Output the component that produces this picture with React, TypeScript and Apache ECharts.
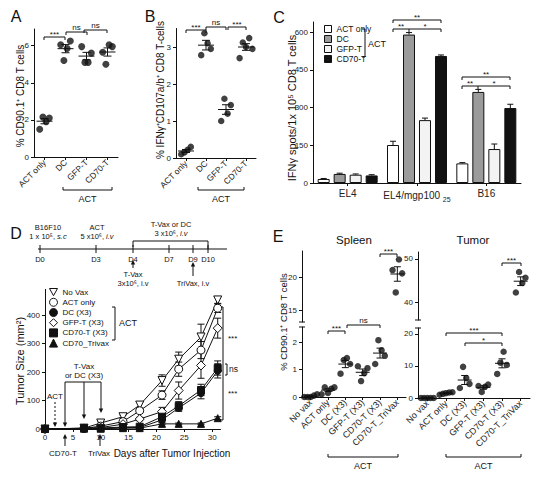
import { useEffect, useRef } from 'react';
import * as echarts from 'echarts';

const FONT = '"Liberation Sans", Arial, Helvetica, sans-serif';
const INK = '#111';

// ---------------- Panel A ----------------
const aCategories = ['ACT only', 'DC', 'GFP-T', 'CD70-T'];
const aActOnly = [1.5, 2.15, 1.9, 2.1];
const aDC = [6.05, 5.2, 5.85, 6.25];
const aGFPT = [5.95, 5.1, 5.1, 5.6];
const aCD70T = [5.65, 5.0, 6.05, 5.95];
const aMean = [1.93, 5.84, 5.44, 5.66];
const aSEM = [0.14, 0.22, 0.2, 0.22];
const aTicks = [0, 2, 4, 6];

// ---------------- Panel B ----------------
const bCategories = ['ACT only', 'DC', 'GFP-T', 'CD70-T'];
const bActOnly = [0.1, 0.15, 0.22, 0.3];
const bDC = [2.78, 3.37, 3.1, 2.95];
const bGFPT = [1.0, 1.6, 1.2, 1.43];
const bCD70T = [2.7, 3.12, 3.0, 3.24, 2.95];
const bMean = [0.19, 3.05, 1.31, 3.0];
const bSEM = [0.04, 0.13, 0.13, 0.09];
const bTicks = [0, 1, 2, 3];

// ---------------- Panel C ----------------
const cCategories = ['EL4', 'EL4/mgp100 25', 'B16'];
const cGroups = ['ACT only', 'DC', 'GFP-T', 'CD70-T'];
const cActOnly = [16, 151, 78];
const cDC = [36, 590, 362];
const cGFPT = [33, 250, 135];
const cCD70T = [30, 505, 298];
const cActOnlyErr = [2, 15, 3];
const cDCErr = [3, 8, 10];
const cGFPTErr = [3, 8, 20];
const cCD70TErr = [3, 4, 15];
const cTicks = [0, 150, 300, 450, 600];

// ---------------- Panel D ----------------
const dDays = [0, 7, 10, 14, 17, 21, 24, 28, 31];
const dGroups = ['No Vax', 'ACT only', 'DC (X3)', 'GFP-T (X3)', 'CD70-T (X3)', 'CD70_Trivax'];
const dNoVax = [0, 3, 21, 43, 84, 170, 245, 323, 453];
const dNoVaxErr = [0, 1, 4, 6, 10, 20, 25, 45, 12];
const dActOnly = [0, 2, 10, 26, 64, 119, 210, 277, 424];
const dActOnlyErr = [0, 1, 3, 5, 8, 15, 25, 30, 15];
const dDC = [0, 2, 3, 5, 5, 32, 74, 126, 204];
const dDCErr = [0, 1, 1, 2, 2, 8, 12, 20, 25];
const dGFPT = [0, 2, 5, 17, 35, 61, 135, 223, 354];
const dGFPTErr = [0, 1, 2, 4, 6, 15, 30, 45, 35];
const dCD70T = [0, 3, 3, 7, 8, 43, 81, 137, 214];
const dCD70TErr = [0, 1, 1, 2, 3, 10, 15, 20, 25];
const dTriVax = [0, 1, 1, 3, 3, 18, 18, 18, 38];
const dTriVaxErr = [0, 0, 0, 1, 1, 3, 3, 3, 5];
const dYTicks = [0, 100, 200, 300, 400];
const dXTicks = [0, 5, 10, 15, 20, 25, 30];

// ---------------- Panel E ----------------
const eCategories = ['No vax', 'ACT only', 'DC (X3)', 'GFP-T (X3)', 'CD70-T (X3)', 'CD70-T_TriVax'];
const spleenNoVax = [0, 0, 0, 0.05, 0.1];
const spleenActOnly = [0.1, 0.35, 0.15, 0.3, 0.35];
const spleenDC = [0.85, 1.35, 1.42, 1.2];
const spleenGFPT = [1.12, 0.58, 0.87, 1.05];
const spleenCD70T = [1.2, 2.07, 1.7, 1.5];
const spleenTriVax = [21.1, 17.7, 22.7, 20.6];
const spleenMean = [0.03, 0.25, 1.2, 0.9, 1.6, 20.5];
const spleenSEM = [0.02, 0.05, 0.13, 0.12, 0.18, 1.1];
const tumorNoVax = [0, 0, 0, 0, 0];
const tumorActOnly = [1.0, 1.3, 1.5, 1.7, 1.8];
const tumorDC = [3.1, 9.7, 6.2, 4.4];
const tumorGFPT = [3.75, 1.9, 3.5, 4.2];
const tumorCD70T = [7.5, 11, 14.4, 10.3];
const tumorTriVax = [42.3, 47.0, 44.5, 45.7];
const tumorMean = [0, 1.45, 5.6, 3.3, 10.8, 44.9];
const tumorSEM = [0, 0.15, 1.4, 0.5, 1.4, 1.0];
const spleenLowTicks = [0, 1, 2];
const spleenHighTicks = [15, 20];
const tumorLowTicks = [0, 10, 20];
const tumorHighTicks = [40, 50];

// ---------------- helpers ----------------
const axisLine = { show: true, lineStyle: { color: INK, width: 1 } };

function ln(x1: number, y1: number, x2: number, y2: number, dash?: number[]): any {
  const style: any = { stroke: INK, lineWidth: 1 };
  if (dash) style.lineDash = dash;
  return { type: 'line', silent: true, shape: { x1, y1, x2, y2 }, style };
}
function tx(x: number, y: number, text: string, size = 8, align = 'center', extra: any = {}): any {
  return {
    type: 'text', silent: true, x, y,
    style: { text, fontSize: size, fontFamily: FONT, fill: INK, align, verticalAlign: 'middle', ...extra },
  };
}
function vtx(x: number, y: number, text: string, size: number): any {
  return { ...tx(x, y, text, size), rotation: Math.PI / 2 };
}
function head(x: number, y: number, dir: number): any {
  return {
    type: 'polygon', silent: true,
    shape: { points: [[x - 2.2, y - dir * 4.5], [x + 2.2, y - dir * 4.5], [x, y]] },
    style: { fill: INK },
  };
}
function arrow(x: number, y1: number, y2: number, dash?: number[]): any[] {
  const dir = y2 > y1 ? 1 : -1;
  return [ln(x, y1, x, y2 - dir * 3, dash), head(x, y2, dir)];
}
function bracket(x1: number, x2: number, y: number, label: string): any[] {
  const ly = label === 'ns' ? y - 5 : y - 3;
  return [ln(x1, y, x2, y), ln(x1, y, x1, y + 3), ln(x2, y, x2, y + 3), tx((x1 + x2) / 2, ly, label, 8)];
}
function underBracket(x1: number, x2: number, y: number, label: string): any[] {
  return [ln(x1, y, x2, y), ln(x1, y, x1, y - 3), ln(x2, y, x2, y - 3), tx((x1 + x2) / 2, y + 9, label, 9)];
}

function dots(idx: number, groups: (number[] | null)[], step: number, size: number): any {
  const data: any[] = [];
  groups.forEach((vals, ci) => {
    if (!vals) return;
    vals.forEach((v, k) =>
      data.push({ value: [ci, v], symbolOffset: [(k - (vals.length - 1) / 2) * step, 0] })
    );
  });
  return {
    type: 'scatter', xAxisIndex: idx, yAxisIndex: idx, symbol: 'circle', symbolSize: size,
    itemStyle: { color: INK }, data, z: 3, silent: true,
  };
}

function meanSE(idx: number, means: number[], sems: number[], cats: number[], half: number, cap: number): any {
  return {
    type: 'custom', xAxisIndex: idx, yAxisIndex: idx, silent: true, z: 4,
    data: cats.map((i) => [i, means[i], sems[i]]),
    renderItem: (_p: any, api: any) => {
      const x = api.value(0), m = api.value(1), se = api.value(2);
      const c = api.coord([x, m]);
      const t = api.coord([x, m + se]);
      const b = api.coord([x, m - se]);
      const st = { stroke: INK, lineWidth: 1 };
      return {
        type: 'group',
        children: [
          { type: 'line', shape: { x1: c[0] - half, y1: c[1], x2: c[0] + half, y2: c[1] }, style: st },
          { type: 'line', shape: { x1: c[0], y1: t[1], x2: c[0], y2: b[1] }, style: st },
          { type: 'line', shape: { x1: c[0] - cap, y1: t[1], x2: c[0] + cap, y2: t[1] }, style: st },
          { type: 'line', shape: { x1: c[0] - cap, y1: b[1], x2: c[0] + cap, y2: b[1] }, style: st },
        ],
      };
    },
  };
}

const BAR_W = 12;
const BAR_GAP = 4;
function barErr(vals: number[], errs: number[], pos: number): any {
  return {
    type: 'custom', xAxisIndex: 2, yAxisIndex: 2, silent: true, z: 5,
    data: vals.map((v, i) => [i, v, errs[i]]),
    renderItem: (_p: any, api: any) => {
      const ci = api.value(0), v = api.value(1), e = api.value(2);
      const b = api.coord([ci, v]);
      const t = api.coord([ci, v + e]);
      const x = b[0] + pos * (BAR_W + BAR_GAP);
      const st = { stroke: INK, lineWidth: 1 };
      return {
        type: 'group',
        children: [
          { type: 'line', shape: { x1: x, y1: b[1], x2: x, y2: t[1] }, style: st },
          { type: 'line', shape: { x1: x - 3, y1: t[1], x2: x + 3, y2: t[1] }, style: st },
        ],
      };
    },
  };
}

function lineErr(vals: number[], errs: number[]): any {
  return {
    type: 'custom', xAxisIndex: 3, yAxisIndex: 3, silent: true, z: 1,
    data: dDays.map((d, i) => [d, vals[i], errs[i]]),
    renderItem: (_p: any, api: any) => {
      const e = api.value(2);
      if (!e) return null;
      const x = api.value(0), v = api.value(1);
      const t = api.coord([x, v + e]);
      const b = api.coord([x, v - e]);
      const st = { stroke: INK, lineWidth: 1 };
      return {
        type: 'group',
        children: [
          { type: 'line', shape: { x1: t[0], y1: t[1], x2: b[0], y2: b[1] }, style: st },
          { type: 'line', shape: { x1: t[0] - 3.5, y1: t[1], x2: t[0] + 3.5, y2: t[1] }, style: st },
          { type: 'line', shape: { x1: b[0] - 3.5, y1: b[1], x2: b[0] + 3.5, y2: b[1] }, style: st },
        ],
      };
    },
  };
}

function tickFmt(ticks: number[]) {
  return (v: number) => (ticks.some((t) => Math.abs(t - v) < 1e-6) ? String(v) : '');
}

function catAxis(idx: number, data: string[], show: boolean, labelSize: number, rotate: number): any {
  return {
    type: 'category', gridIndex: idx, data, show, boundaryGap: true,
    axisLine, axisTick: { show: true, alignWithLabel: true, length: 3, lineStyle: { color: INK } },
    axisLabel: { rotate, fontSize: labelSize, fontFamily: FONT, color: '#222', margin: 4, interval: 0 },
    splitLine: { show: false },
  };
}
function valAxis(idx: number, min: number, max: number, ticks: number[], show = true): any {
  return {
    type: 'value', gridIndex: idx, min, max, show,
    interval: ticks.length > 1 ? ticks[1] - ticks[0] : undefined,
    axisLine, axisTick: { show: true, length: 3, lineStyle: { color: INK }, customValues: ticks },
    axisLabel: { fontSize: 8, fontFamily: FONT, color: '#222', margin: 5, customValues: ticks, formatter: tickFmt(ticks) },
    splitLine: { show: false },
  };
}

const OPEN = { color: '#fff', borderColor: INK, borderWidth: 1 };
const FILLED = { color: INK, borderColor: INK, borderWidth: 1 };
const INV_TRI = 'path://M0,0L10,0L5,9Z';
const dSymbols = [INV_TRI, 'circle', 'circle', 'diamond', 'rect', 'triangle'];
const dStyles = [OPEN, OPEN, FILLED, OPEN, FILLED, FILLED];
const dSizes = [8, 8, 7, 9, 7, 7];
const dValues = [dNoVax, dActOnly, dDC, dGFPT, dCD70T, dTriVax];
const dErrs = [dNoVaxErr, dActOnlyErr, dDCErr, dGFPTErr, dCD70TErr, dTriVaxErr];
const cColors = ['#ffffff', '#9b9b9b', '#f3f3f3', '#111111'];
const cValues = [cActOnly, cDC, cGFPT, cCD70T];
const cErrs = [cActOnlyErr, cDCErr, cGFPTErr, cCD70TErr];

function buildOption(): any {
  const grids = [
    { left: 34, top: 29, width: 84, height: 128 },
    { left: 176, top: 28.5, width: 80, height: 129.5 },
    { left: 313, top: 22, width: 208, height: 161 },
    { left: 45, top: 289.4, width: 175.5, height: 139.6 },
    { left: 302, top: 251, width: 104, height: 71 },
    { left: 302, top: 327, width: 104, height: 70 },
    { left: 418, top: 252, width: 112, height: 68 },
    { left: 418, top: 328, width: 112, height: 70 },
  ].map((g) => ({ ...g, containLabel: false, outerBoundsMode: 'none' }));

  const xAxis = [
    catAxis(0, aCategories, true, 8.5, 45),
    catAxis(1, bCategories, true, 8.5, 45),
    {
      ...catAxis(2, cCategories, true, 10, 0),
      axisLabel: {
        fontSize: 10, fontFamily: FONT, color: '#222', margin: 5, interval: 0,
        formatter: (v: string) => (v === 'EL4/mgp100 25' ? 'EL4/mgp100 {sub|25}' : v),
        rich: { sub: { fontSize: 7, fontFamily: FONT, color: '#222', padding: [8, 0, 0, 0] } },
      },
    },
    {
      type: 'value', gridIndex: 3, min: 0, max: 31.5, interval: 5,
      axisLine, axisTick: { show: true, length: 3, lineStyle: { color: INK }, customValues: dXTicks },
      axisLabel: { fontSize: 8, fontFamily: FONT, color: '#222', margin: 4, customValues: dXTicks, formatter: tickFmt(dXTicks) },
      splitLine: { show: false },
    },
    catAxis(4, eCategories, false, 9, 45),
    catAxis(5, eCategories, true, 9, 45),
    catAxis(6, eCategories, false, 9, 45),
    catAxis(7, eCategories, true, 9, 45),
  ];
  const yAxis = [
    valAxis(0, 0, 6.9, aTicks),
    valAxis(1, 0, 3.5, bTicks),
    valAxis(2, 0, 640, cTicks),
    valAxis(3, 0, 490, dYTicks),
    valAxis(4, 13.2, 24, spleenHighTicks),
    valAxis(5, 0, 2.55, spleenLowTicks),
    valAxis(6, 36, 51.6, tumorHighTicks),
    valAxis(7, 0, 21.8, tumorLowTicks),
  ];

  const series: any[] = [];
  // A
  series.push(dots(0, [aActOnly, aDC, aGFPT, aCD70T], 3.2, 7));
  series.push(meanSE(0, aMean, aSEM, [0, 1, 2, 3], 8, 4));
  // B
  series.push(dots(1, [bActOnly, bDC, bGFPT, bCD70T], 3.2, 6.5));
  series.push(meanSE(1, bMean, bSEM, [0, 1, 2, 3], 8, 4));
  // C
  cGroups.forEach((name, gi) => {
    series.push({
      type: 'bar', name, xAxisIndex: 2, yAxisIndex: 2, data: cValues[gi],
      barWidth: BAR_W, barGap: '33.33%',
      itemStyle: { color: cColors[gi], borderColor: INK, borderWidth: 1 }, silent: true, z: 2,
    });
    series.push(barErr(cValues[gi], cErrs[gi], gi - 1.5));
  });
  // D
  dGroups.forEach((name, gi) => {
    series.push(lineErr(dValues[gi], dErrs[gi]));
    series.push({
      type: 'line', name: 'd:' + name, xAxisIndex: 3, yAxisIndex: 3,
      data: dDays.map((d, i) => [d, dValues[gi][i]]),
      symbol: dSymbols[gi], symbolSize: dSizes[gi], showAllSymbol: true,
      lineStyle: { color: INK, width: 1 }, itemStyle: dStyles[gi], silent: true, z: 2 + gi * 0.01,
    });
  });
  // E spleen
  series.push(dots(5, [spleenNoVax, spleenActOnly, spleenDC, spleenGFPT, spleenCD70T, null], 3.2, 6.5));
  series.push(dots(4, [null, null, null, null, null, spleenTriVax], 3.2, 6.5));
  series.push(meanSE(5, spleenMean, spleenSEM, [0, 1, 2, 3, 4], 7, 3.5));
  series.push(meanSE(4, spleenMean, spleenSEM, [5], 7, 3.5));
  // E tumor
  series.push(dots(7, [tumorNoVax, tumorActOnly, tumorDC, tumorGFPT, tumorCD70T, null], 3.2, 6.5));
  series.push(dots(6, [null, null, null, null, null, tumorTriVax], 3.2, 6.5));
  series.push(meanSE(7, tumorMean, tumorSEM, [0, 1, 2, 3, 4], 7, 3.5));
  series.push(meanSE(6, tumorMean, tumorSEM, [5], 7, 3.5));

  const legend = [
    {
      orient: 'vertical', left: 319, top: 19, itemWidth: 7, itemHeight: 7, itemGap: 0, selectedMode: false,
      textStyle: { fontSize: 8.5, fontFamily: FONT, color: INK, lineHeight: 10 },
      data: cGroups.map((n, i) => ({ name: n, icon: 'rect', itemStyle: { color: cColors[i], borderColor: INK, borderWidth: 1 } })),
    },
    {
      orient: 'vertical', left: 44, top: 282, itemWidth: 8, itemHeight: 8, itemGap: 0, selectedMode: false,
      textStyle: { fontSize: 8, fontFamily: FONT, color: INK, lineHeight: 10.2 },
      formatter: (n: string) => n.replace(/^d:/, ''),
      data: dGroups.map((n, i) => ({ name: 'd:' + n, icon: dSymbols[i], itemStyle: { ...dStyles[i] } })),
    },
  ];

  const g: any[] = [];
  // Panel letters
  g.push(tx(16, 16, 'A', 16), tx(150, 16, 'B', 16), tx(279, 17, 'C', 16), tx(16, 233, 'D', 16), tx(278, 236, 'E', 16));
  // A
  g.push(vtx(20, 96, '% CD90.1\u207A CD8 T cells', 10));
  g.push(...bracket(44, 65, 37, '***'), ...bracket(66, 87, 32, 'ns'), ...bracket(84, 107, 30, 'ns'));
  g.push(...underBracket(63, 112, 190, 'ACT'));
  // B
  g.push(vtx(160, 90, '% IFN\u03B3\u207ACD107a/b\u207A CD8 T-cells', 10));
  g.push(...bracket(186, 206, 30, '***'), ...bracket(206, 226, 27, 'ns'), ...bracket(228, 246, 27, '***'));
  g.push(...underBracket(198, 244, 190, 'ACT'));
  // C
  g.push(vtx(292, 108, 'IFN\u03B3 spots/1x 10\u2075 CD8 T cells', 11));
  g.push(...bracket(393, 441, 20, '**'));
  g.push(ln(393, 29, 441, 29), ln(393, 29, 393, 32), ln(409, 29, 409, 32), ln(441, 29, 441, 32));
  g.push(tx(401, 26, '**', 8), tx(425, 26, '*', 8));
  g.push(...bracket(462, 510, 77, '**'));
  g.push(ln(462, 86, 510, 86), ln(462, 86, 462, 89), ln(478, 86, 478, 89), ln(510, 86, 510, 89));
  g.push(tx(470, 83, '**', 8), tx(494, 83, '*', 8));
  g.push(ln(365, 29, 365, 57), ln(362, 29, 365, 29), ln(362, 57, 365, 57), tx(368, 44, 'ACT', 9, 'left'));
  // D timeline
  g.push(ln(38, 249, 227, 249));
  const tlX = [40, 96, 133, 169, 193, 208];
  const tlL = ['D0', 'D3', 'D4', 'D7', 'D9', 'D10'];
  tlX.forEach((x, i) => g.push(ln(x, 245, x, 253), tx(x, 259, tlL[i], 7.5)));
  const ital = { rich: { i: { fontStyle: 'italic', fontSize: 7.5, fontFamily: FONT } } };
  g.push(tx(48, 227, 'B16F10', 7.5), tx(48, 236, '1 x 10\u2075, {i|s.c}', 7.5, 'center', ital));
  g.push(tx(97, 227, 'ACT', 7.5), tx(97, 236, '5 x10\u2076, {i|i.v}', 7.5, 'center', ital));
  g.push(tx(171, 224, 'T-Vax or DC', 7.5), tx(171, 233, '3 x10\u2076, {i|i.v}', 7.5, 'center', ital));
  g.push(ln(133, 241, 208, 241), ln(133, 241, 133, 247), ln(208, 241, 208, 249));
  g.push(...arrow(133, 268, 260), tx(133, 274, 'T-Vax', 7.5), tx(133, 283, '3x10\u2076, i.v', 7.5));
  g.push(...arrow(193, 276, 262), tx(193, 283, 'TriVax, i.v', 7.5));
  // D plot annotations
  g.push(vtx(20, 361, 'Tumor Size (mm\u00B2)', 11));
  g.push(ln(112, 307, 115, 307), ln(115, 307, 115, 340), ln(112, 340, 115, 340), tx(119, 323, 'ACT', 9, 'left'));
  g.push(tx(55, 396, 'ACT', 8), ...arrow(55, 402, 427, [2, 2]));
  g.push(tx(84, 366, 'T-Vax', 8), tx(84, 375, 'or DC (X3)', 8));
  g.push(ln(65, 382, 101, 382), ...arrow(65, 382, 427), ...arrow(84, 382, 419), ...arrow(101, 382, 413));
  g.push(...arrow(65, 446, 434), tx(63, 453, 'CD70-T', 8));
  g.push(...arrow(100, 446, 434), tx(99, 453, 'TriVax', 8));
  g.push(tx(172, 453, 'Days after Tumor Injection', 10));
  g.push(ln(223, 307, 223, 420), ln(220, 307, 223, 307), ln(220, 420, 223, 420));
  g.push(tx(228, 338, '***', 8, 'left'), tx(228, 393, '***', 8, 'left'));
  g.push(ln(227, 364, 227, 375), ln(225, 364, 227, 364), ln(225, 375, 227, 375), tx(229, 369, 'ns', 8.5, 'left'));
  // E
  g.push(tx(354, 240, 'Spleen', 11.5), tx(473, 240, 'Tumor', 11.5));
  g.push(vtx(283, 322, '% CD90.1\u207A CD8 T cells', 9.5));
  g.push(ln(299, 322, 305, 322), ln(299, 327, 305, 327), ln(415, 320, 421, 320), ln(415, 328, 421, 328));
  g.push(...bracket(328, 345, 331, '***'), ...bracket(347, 380, 325, 'ns'), ...bracket(380, 397, 254, '***'));
  g.push(...bracket(446, 502, 333, '***'), ...bracket(465, 502, 343, '*'), ...bracket(502, 521, 263, '***'));
  g.push(...underBracket(328, 398, 457, 'ACT'), ...underBracket(446, 521, 457, 'ACT'));

  return {
    animation: false,
    backgroundColor: '#fff',
    textStyle: { fontFamily: FONT },
    grid: grids,
    xAxis,
    yAxis,
    legend,
    series,
    graphic: { elements: g },
  };
}

export default function App() {
  const ref = useRef<HTMLDivElement>(null);
  useEffect(() => {
    if (!ref.current) return;
    const chart = echarts.init(ref.current, null, { renderer: 'svg', width: 543, height: 479 });
    chart.setOption(buildOption());
    return () => chart.dispose();
  }, []);
  return (
    <div
      ref={ref}
      style={{ position: 'fixed', left: 0, top: 0, width: 543, height: 479, background: '#fff' }}
    />
  );
}
